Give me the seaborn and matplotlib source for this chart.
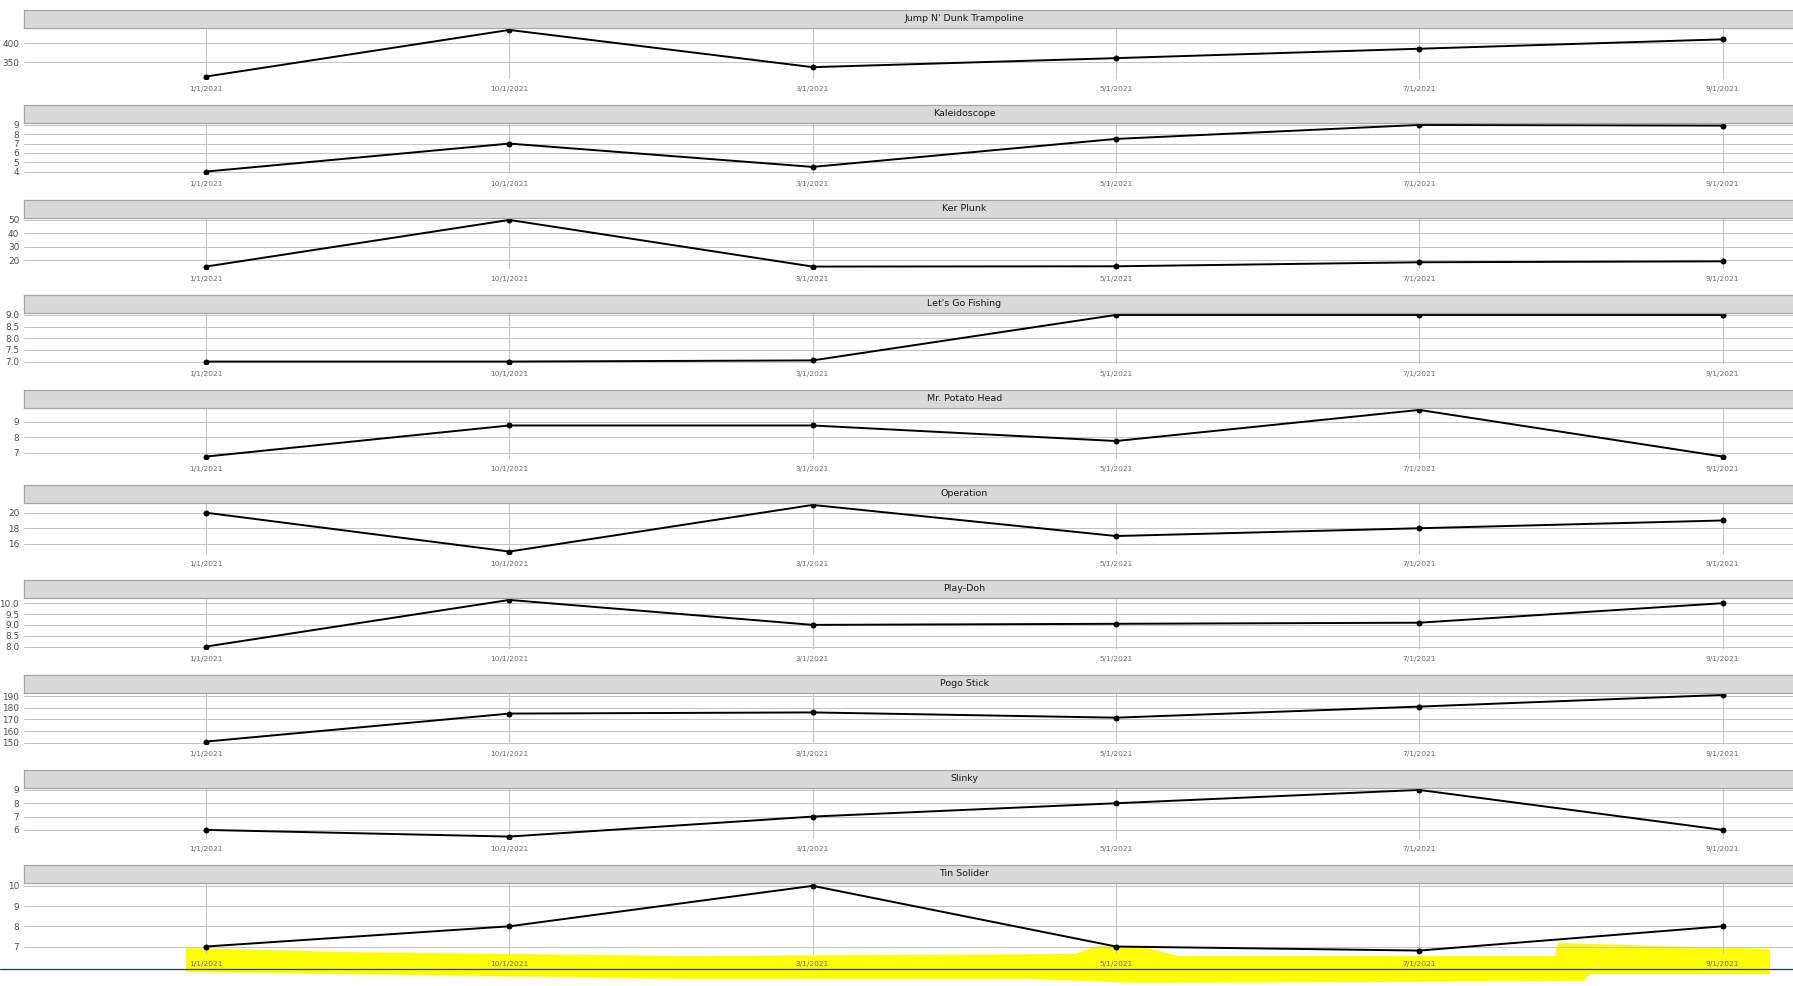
import matplotlib
matplotlib.use("Agg")
import matplotlib.pyplot as plt
import seaborn as sns
import pandas as pd
from matplotlib.patches import Polygon
from matplotlib.lines import Line2D

# ---------------- data ----------------
dates = ["1/1/2021", "10/1/2021", "3/1/2021", "5/1/2021", "7/1/2021", "9/1/2021"]

toys = ["Jump N' Dunk Trampoline", "Kaleidoscope", "Ker Plunk", "Let's Go Fishing",
        "Mr. Potato Head", "Operation", "Play-Doh", "Pogo Stick", "Slinky", "Tin Solider"]

trampoline = [312, 436, 337, 361, 386, 411]
kaleidoscope = [4.0, 7.0, 4.5, 7.5, 9.0, 8.93]
ker_plunk = [15.3, 50.0, 15.3, 15.5, 18.5, 19.2]
fishing = [7.0, 7.0, 7.05, 9.0, 9.0, 9.0]
potato_head = [6.75, 8.75, 8.75, 7.75, 9.75, 6.75]
operation = [20, 15, 21, 17, 18, 19]
play_doh = [8.0, 10.15, 9.0, 9.05, 9.1, 10.0]
pogo_stick = [151, 175, 176, 171.5, 181, 191]
slinky = [6.0, 5.5, 7.0, 8.0, 9.0, 6.0]
tin_soldier = [7.0, 8.0, 10.0, 7.0, 6.8, 8.0]

series = [trampoline, kaleidoscope, ker_plunk, fishing, potato_head,
          operation, play_doh, pogo_stick, slinky, tin_soldier]

yticks_trampoline = [350, 400]
yticks_kaleidoscope = [4, 5, 6, 7, 8, 9]
yticks_ker_plunk = [20, 30, 40, 50]
yticks_fishing = [7.0, 7.5, 8.0, 8.5, 9.0]
yticks_potato_head = [7, 8, 9]
yticks_operation = [16, 18, 20]
yticks_play_doh = [8.0, 8.5, 9.0, 9.5, 10.0]
yticks_pogo_stick = [150, 160, 170, 180, 190]
yticks_slinky = [6, 7, 8, 9]
yticks_tin_soldier = [7, 8, 9, 10]

yticks = [yticks_trampoline, yticks_kaleidoscope, yticks_ker_plunk, yticks_fishing,
          yticks_potato_head, yticks_operation, yticks_play_doh, yticks_pogo_stick,
          yticks_slinky, yticks_tin_soldier]
ytick_decimals = [0, 0, 0, 1, 0, 0, 1, 0, 0, 0]

rows = []
for toy, vals in zip(toys, series):
    for d, v in zip(dates, vals):
        rows.append({"toy": toy, "date": d, "value": v})
df = pd.DataFrame(rows)

# ---------------- figure ----------------
sns.set_style("white")
plt.rcParams["font.family"] = ["DejaVu Sans"]

W, H = 1793, 986
fig = plt.figure(figsize=(W / 100, H / 100), dpi=100)
fig.patch.set_facecolor("white")

LEFT = 24.0
AX_W = 1880.6
STRIP_H = 17.6
PERIOD = 95.0
PLOT_H = 51.3

for k, toy in enumerate(toys):
    strip_top = 10.0 + PERIOD * k
    strip_bot = strip_top + STRIP_H
    plot_bot = strip_bot + PLOT_H if k < len(toys) - 1 else 953.8

    ax = fig.add_axes([LEFT / W, 1 - plot_bot / H, AX_W / W, (plot_bot - strip_bot) / H])
    sub = df[df["toy"] == toy]
    sns.lineplot(data=sub, x="date", y="value", sort=False, color="black",
                 marker="o", markersize=4.3, markeredgewidth=0, linewidth=1.4,
                 ax=ax, zorder=3)
    vals = sub["value"].to_numpy()
    rng = vals.max() - vals.min()
    ax.set_ylim(vals.min() - 0.05 * rng, vals.max() + 0.05 * rng)
    ax.set_xlim(-0.6, len(dates) - 0.4)
    ax.set_yticks(yticks[k])
    ax.set_yticklabels([f"{t:.{ytick_decimals[k]}f}" for t in yticks[k]])
    ax.set_xlabel("")
    ax.set_ylabel("")
    ax.grid(True, axis="both", color="#C4C4C4", linewidth=0.75)
    ax.set_axisbelow(True)
    for s in ax.spines.values():
        s.set_visible(False)
    ax.tick_params(axis="y", length=2.3, width=0.7, color="#666666", labelsize=6.4,
                   labelcolor="#4D4D4D", pad=1.2)
    ax.tick_params(axis="x", length=2.5, width=0.6, color="#8A8A8A", labelsize=5.4,
                   labelcolor="#6E6E6E", pad=2.6)
    if k == len(toys) - 1:
        ax.set_facecolor("none")

    sax = fig.add_axes([LEFT / W, 1 - strip_bot / H, AX_W / W, STRIP_H / H])
    sax.set_facecolor("#D9D9D9")
    sax.set_xticks([])
    sax.set_yticks([])
    for s in sax.spines.values():
        s.set_color("#A6A6A6")
        s.set_linewidth(0.9)
    sax.text(0.5, 0.5, toy, ha="center", va="center", fontsize=6.8,
             color="#1A1A1A", transform=sax.transAxes)

# yellow highlighter stroke over the last row of date labels
hl = [(186, 948), (343, 952), (686, 956), (1075, 954), (1098, 946), (1143, 947),
      (1178, 956), (1555, 956), (1558, 943), (1770, 949), (1770, 974), (1590, 974),
      (1584, 981), (1143, 983), (1029, 979), (686, 979), (343, 974), (186, 972)]
fig.add_artist(Polygon([(x / W, 1 - y / H) for x, y in hl], closed=True,
                       transform=fig.transFigure, facecolor="#FFFF00",
                       edgecolor="none", zorder=-1))

# dark rule across the bottom
fig.add_artist(Line2D([0, 1], [1 - 968.7 / H, 1 - 968.7 / H], transform=fig.transFigure,
                      color="#1F3A4C", linewidth=0.9, zorder=10))

fig.savefig("out.png", dpi=100)
